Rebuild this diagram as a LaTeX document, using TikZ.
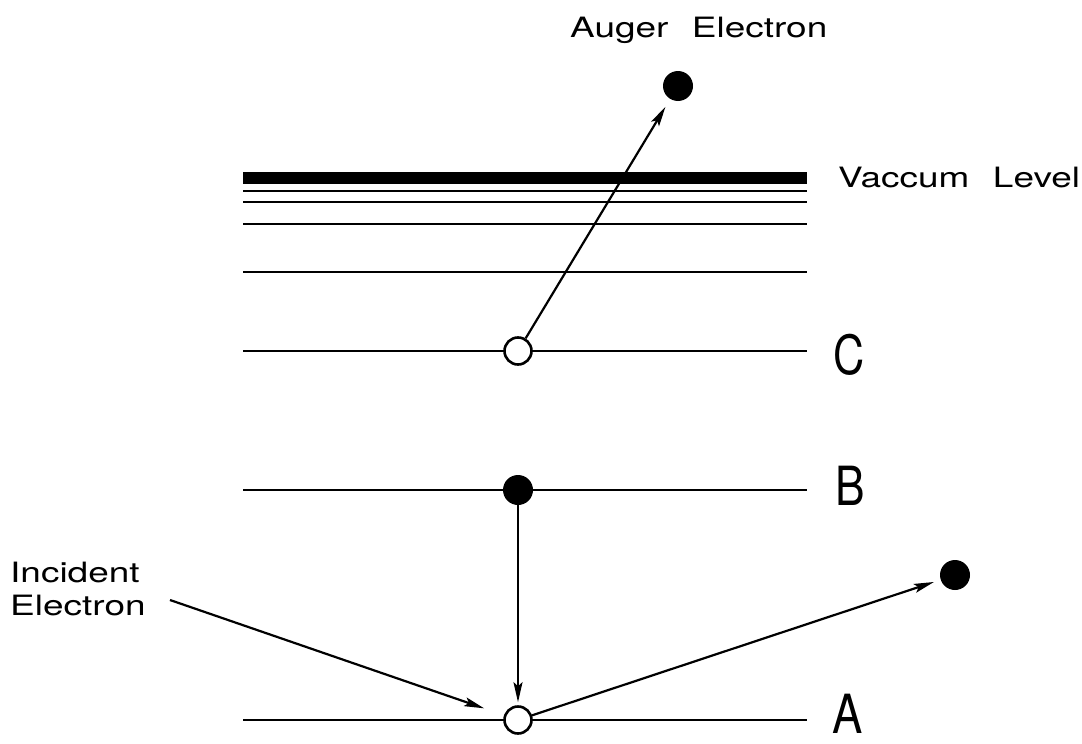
\documentclass[tikz,border=0pt]{standalone}
\usepackage{fontspec}
\newfontfamily\plotfont{TeX Gyre Heros}
\usetikzlibrary{arrows.meta}
\tikzset{
  level/.style={line width=2.6pt},
  hole/.style={circle, draw, line width=2.6pt, fill=white, minimum size=27pt, inner sep=0pt},
  ball/.style={circle, fill=black, minimum size=30pt, inner sep=0pt},
  arr/.style={line width=2.2pt, -{Stealth[length=20pt,width=9pt,inset=4pt]}},
  lbl/.style={font=\plotfont\fontsize{28}{30}\selectfont, inner sep=0pt},
  big/.style={font=\plotfont\fontsize{54}{56}\selectfont, inner sep=0pt, anchor=base}
}
\newcommand{\wide}[1]{\scalebox{1.32}[1]{#1}}
\begin{document}
\begin{tikzpicture}[x=1pt,y=-1pt]
\useasboundingbox (0,0) rectangle (1082,744);
% vacuum band and continuum lines
\fill (243,172) rectangle (807,184);
\coordinate (v1l) at (243,191); \coordinate (v1r) at (807,191);
\coordinate (v2l) at (243,202); \coordinate (v2r) at (807,202);
\coordinate (v3l) at (243,224); \coordinate (v3r) at (807,224);
\coordinate (v4l) at (243,272); \coordinate (v4r) at (807,272);
\draw[level] (v1l) -- (v1r);
\draw[level] (v2l) -- (v2r);
\draw[level] (v3l) -- (v3r);
\draw[level] (v4l) -- (v4r);
% core levels
\coordinate (Cl) at (243,351); \coordinate (Cr) at (807,351);
\coordinate (Bl) at (243,490); \coordinate (Br) at (807,490);
\coordinate (Al) at (243,720); \coordinate (Ar) at (807,720);
\draw[level] (Cl) -- (Cr);
\draw[level] (Bl) -- (Br);
\draw[level] (Al) -- (Ar);
% electrons and holes
\node[hole] (Ch) at (518,351) {};
\node[ball] (Bb) at (518,490) {};
\node[hole] (Ah) at (518,720) {};
\node[ball] (Aug) at (678,86) {};
\node[ball] (Sc) at (955,575) {};
\coordinate (inc) at (170,600);
% arrows
\draw[arr, shorten >=9pt] (Ch) -- (Aug);
\draw[arr, shorten >=3pt] (Bb) -- (Ah);
\draw[arr, shorten >=21pt] (inc) -- (Ah);
\draw[arr, shorten >=7pt] (Ah) -- (Sc);
% labels
\node[big] (lC) at (849,374) {\scalebox{0.8}[1]{C}};
\node[big] (lB) at (850,505) {\scalebox{0.82}[1]{B}};
\node[big] (lA) at (848,733) {\scalebox{0.84}[1]{A}};
\node[lbl, anchor=base west] (vac) at (838,187) {\wide{Vaccum\hspace{10pt} Level}};
\node[lbl, anchor=base west] (aug) at (570,37) {\wide{Auger\hspace{10pt} Electron}};
\node[lbl, anchor=base west] (inc1) at (10,582) {\wide{Incident}};
\node[lbl, anchor=base west] (inc2) at (10,615) {\wide{Electron}};
\end{tikzpicture}
\end{document}
